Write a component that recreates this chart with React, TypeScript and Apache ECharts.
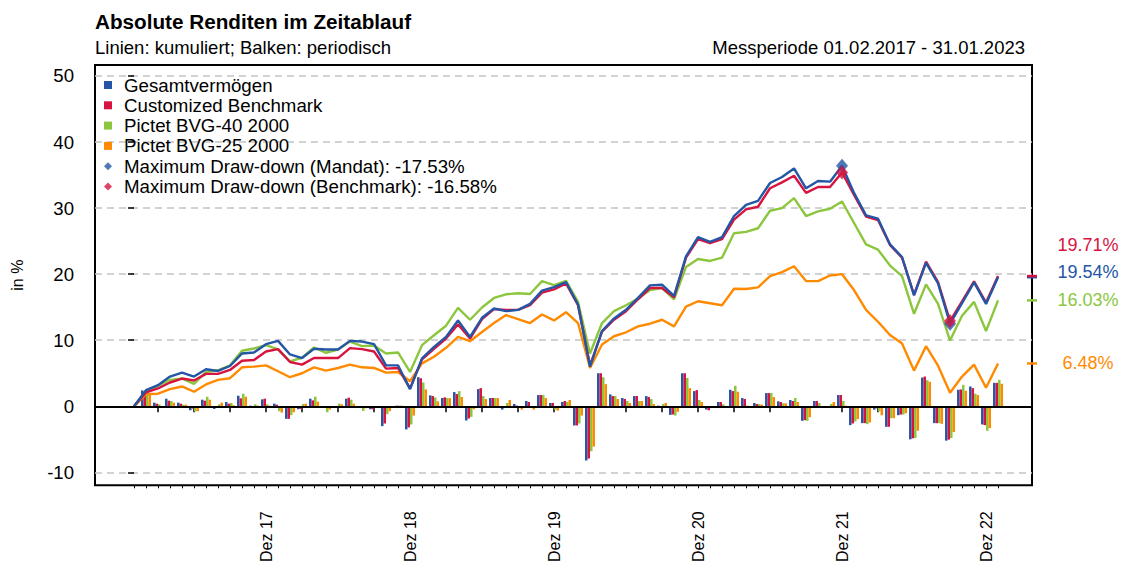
import React, { useEffect, useRef } from "react";
import * as echarts from "echarts";

const FONT = "'Liberation Sans', Arial, Helvetica, sans-serif";

const NAME_BLUE = "Gesamtvermögen";
const NAME_RED = "Customized Benchmark";
const NAME_GREEN = "Pictet BVG-40 2000";
const NAME_ORANGE = "Pictet BVG-25 2000";
const NAME_DD_M = "Maximum Draw-down (Mandat): -17.53%";
const NAME_DD_B = "Maximum Draw-down (Benchmark): -16.58%";

const COLOR_BLUE = "#2356A5";
const COLOR_RED = "#D7143F";
const COLOR_GREEN = "#8CC63E";
const COLOR_ORANGE = "#FF8A00";

// month index: 0 = Jan 2017 (start), 72 = Jan 2023
// cumulative returns (lines), %
const cumBlue = [
  0, 2.45, 3.2, 4.5, 5.1, 4.5, 5.6, 5.35, 6.1, 8.0, 8.15, 9.4,
  9.9, 7.85, 7.3, 8.7, 8.6, 8.6, 9.9, 9.8, 9.4, 6.2, 6.2, 2.6,
  7.25, 9.0, 10.5, 13.0, 10.5, 13.4, 14.8, 14.4, 14.6, 15.5, 17.5, 18.05,
  18.8, 15.4, 6.0, 11.4, 13.3, 14.6, 16.4, 18.3, 18.4, 16.7, 22.7, 25.6,
  24.9, 25.6, 28.8, 30.5, 31.1, 33.8, 34.7, 36.0, 33.0, 34.1, 34.0, 36.4,
  32.3, 28.9, 28.4, 24.5, 22.6, 16.8, 21.7, 18.6, 12.5, 15.6, 18.75, 15.5,
  19.54,
];
const cumRed = [
  0, 2.1, 2.7, 3.6, 4.2, 3.9, 4.9, 4.9, 5.5, 6.9, 7.0, 8.3,
  8.65, 6.7, 6.3, 7.3, 7.3, 7.3, 8.8, 8.65, 8.3, 5.7, 5.8, 2.7,
  7.1, 8.7, 10.25, 12.4, 10.25, 13.2, 14.7, 14.6, 14.6, 15.3, 17.2, 17.7,
  18.6, 15.3, 6.2, 11.3, 13.1, 14.4, 16.2, 17.9, 17.9, 16.5, 22.5, 25.3,
  24.7, 25.3, 28.25, 29.8, 30.2, 33.0, 33.9, 34.9, 32.3, 33.2, 33.2, 35.4,
  32.0, 28.7, 28.2, 24.4, 22.5, 16.9, 21.9, 18.8, 12.9, 15.9, 18.9, 15.7,
  19.71,
];
const cumGreen = [
  0, 2.3, 3.1, 4.0, 4.2, 3.4, 5.2, 5.45, 6.2, 8.4, 8.75, 9.25,
  8.6, 6.8, 7.35, 8.9, 8.1, 8.6, 9.8, 9.1, 9.2, 8.0, 8.15, 5.2,
  9.25, 10.75, 12.2, 14.9, 13.1, 14.95, 16.4, 16.95, 17.1, 17.0, 18.95, 18.35,
  19.0, 15.8, 8.0, 12.6, 14.4, 15.3, 16.3, 17.6, 17.9, 16.2, 21.1, 22.3,
  22.0, 22.5, 26.2, 26.4, 26.95, 29.6, 30.0, 31.5, 28.8, 29.5, 29.9, 31.0,
  27.75, 24.5, 23.7, 21.3, 19.7, 14.0, 18.45, 15.5, 9.95, 13.7, 15.8, 11.4,
  16.03,
];
const cumOrange = [
  0, 1.85, 1.9, 2.6, 3.0, 2.2, 3.3, 4.0, 4.25, 5.9, 6.0, 6.2,
  5.3, 4.4, 5.0, 5.9, 5.4, 5.8, 6.3, 5.9, 5.8, 5.1, 5.2, 3.8,
  6.5, 7.5, 8.85, 10.5, 9.85, 11.25, 12.6, 13.8, 13.2, 12.6, 13.9, 13.0,
  14.25, 12.6, 5.8, 9.35, 10.6, 11.2, 12.1, 12.5, 13.1, 12.1, 15.1, 15.9,
  15.6, 15.3, 17.8, 17.75, 18.0, 19.7, 20.3, 21.2, 18.95, 18.95, 19.8, 20.0,
  17.6, 14.6, 12.8, 10.8, 9.5, 5.4, 9.1, 6.15, 2.05, 4.5, 6.3, 2.8,
  6.48,
];

// periodic (monthly) returns (bars), months 1..72
const perBlue = [
  2.4, 0.55, 1.15, 0.55, -0.6, 1.0, -0.4, 0.65, 1.6, 0.1, 1.05, 0.4,
  -1.9, -0.45, 1.15, -0.05, 0.0, 1.15, 0.0, -0.45, -3.0, 0.05, -3.5, 4.4,
  1.65, 1.25, 2.15, -2.15, 2.6, 1.25, -0.5, 0.35, 0.8, 1.7, 0.5, 0.65,
  -2.9, -8.2, 5.0, 1.8, 1.25, 1.55, 1.55, 0.1, -1.3, 5.0, 2.3, -0.5,
  0.65, 2.5, 1.25, 0.5, 2.0, 0.75, 0.95, -2.2, 0.8, 0.0, 1.7, -2.85,
  -2.55, -0.5, -3.1, -1.35, -5.0, 4.35, -2.55, -5.2, 2.5, 3.0, -2.75, 3.55,
];
const perRed = [
  2.15, 0.4, 0.85, 0.4, -0.35, 0.85, 0.05, 0.4, 1.2, 0.05, 1.15, 0.25,
  -1.9, -0.4, 0.9, 0.0, 0.05, 1.3, 0.0, -0.45, -2.6, 0.1, -3.2, 4.25,
  1.55, 1.35, 1.85, -1.85, 2.75, 1.25, -0.1, 0.1, 0.65, 1.7, 0.5, 0.8,
  -2.9, -7.9, 5.0, 1.55, 1.1, 1.55, 1.4, 0.05, -1.25, 5.0, 2.45, -0.6,
  0.65, 2.3, 1.1, 0.35, 2.0, 0.65, 0.8, -2.1, 0.8, 0.0, 1.7, -2.6,
  -2.55, -0.3, -3.1, -1.25, -4.85, 4.5, -2.55, -5.05, 2.55, 2.75, -2.85, 3.55,
];
const perGreen = [
  2.2, 0.3, 0.8, 0.25, -0.75, 1.45, 0.3, 0.5, 1.9, 0.3, 0.3, -0.75,
  -1.35, 0.35, 1.45, -0.9, 0.4, 1.0, -0.7, 0.05, -1.2, 0.1, -2.75, 3.6,
  1.35, 1.25, 2.3, -1.6, 1.55, 1.25, 0.5, 0.05, 0.05, 1.7, -0.5, 0.65,
  -2.6, -6.8, 4.4, 1.55, 0.8, 0.8, 1.1, 0.35, -1.4, 4.3, 0.95, -0.25,
  0.3, 3.1, 0.1, 0.35, 2.0, 0.45, 1.25, -2.2, 0.5, 0.35, 0.8, -2.3,
  -2.7, -0.75, -1.8, -1.25, -4.8, 3.95, -2.55, -4.8, 3.25, 1.9, -3.7, 4.0,
];
const perOrange = [
  1.85, 0.05, 0.55, 0.25, -0.75, 1.0, 0.55, 0.15, 1.45, 0.1, 0.1, -0.95,
  -0.9, 0.4, 0.7, -0.5, 0.3, 0.4, -0.3, 0.0, -0.75, 0.1, -1.4, 2.55,
  0.75, 1.25, 1.4, -0.45, 1.1, 1.25, 0.95, -0.5, -0.5, 1.25, -0.65, 0.95,
  -1.4, -6.1, 3.35, 1.1, 0.5, 0.8, 0.35, 0.5, -0.85, 2.75, 0.65, -0.25,
  -0.05, 2.2, 0.0, 0.25, 1.4, 0.45, 0.65, -1.65, 0.0, 0.65, 0.1, -1.95,
  -2.45, -1.35, -1.8, -1.05, -3.7, 3.7, -2.65, -3.9, 2.35, 1.7, -3.3, 3.4,
];

// maximum draw-down points: [month index, cumulative %]
const ddMandat = [[59, 36.4], [68, 12.5]];
const ddBenchmark = [[59, 35.4], [68, 12.9]];

// axes
const yTicks = [-10, 0, 10, 20, 30, 40, 50];
const quarterTicks = [2, 5, 8, 11, 14, 17, 20, 23, 26, 29, 32, 35, 38, 41, 44, 47, 50, 53, 56, 59, 62, 65, 68, 71];
const monthTicks = [
  0, 1, 2, 3, 4, 5, 6, 7, 8, 9, 10, 11, 12, 13, 14, 15, 16, 17, 18, 19, 20, 21, 22, 23, 24,
  25, 26, 27, 28, 29, 30, 31, 32, 33, 34, 35, 36, 37, 38, 39, 40, 41, 42, 43, 44, 45, 46, 47, 48,
  49, 50, 51, 52, 53, 54, 55, 56, 57, 58, 59, 60, 61, 62, 63, 64, 65, 66, 67, 68, 69, 70, 71, 72,
];
const labelTicks = [11, 23, 35, 47, 59, 71];
const tickLabels = ["Dez 17", "Dez 18", "Dez 19", "Dez 20", "Dez 21", "Dez 22"];

// end values shown at the right
const endValues = [
  { name: NAME_BLUE, value: 19.54, text: "19.54%", color: COLOR_BLUE, dy: -5 },
  { name: NAME_RED, value: 19.71, text: "19.71%", color: COLOR_RED, dy: -31 },
  { name: NAME_GREEN, value: 16.03, text: "16.03%", color: COLOR_GREEN, dy: 0 },
  { name: NAME_ORANGE, value: 6.48, text: "6.48%", color: COLOR_ORANGE, dy: 0 },
];

const X_MIN = -3.25;
const X_MAX = 74.83;
const Y_MIN = -11.96;
const Y_MAX = 51.66;

function toLine(arr: number[]) {
  return arr.map((v, i) => [i, v]);
}
function toBars(arr: number[]) {
  return arr.map((v, k) => [k + 1, v]);
}

export default function App() {
  const ref = useRef<HTMLDivElement>(null);

  useEffect(() => {
    if (!ref.current) return;
    const chart = echarts.init(ref.current, undefined, { renderer: "svg" });

    const barBase = {
      type: "bar",
      barWidth: 2.5,
      barGap: "0%",
      xAxisIndex: 0,
      yAxisIndex: 0,
      silent: true,
    };
    const lineBase = {
      type: "line",
      showSymbol: false,
      symbol: "none",
      xAxisIndex: 0,
      yAxisIndex: 0,
      silent: true,
    };

    const option: any = {
      animation: false,
      textStyle: { fontFamily: FONT },
      grid: {
        left: 95,
        right: 90,
        top: 65,
        bottom: 78,
        show: true,
        borderColor: "#000",
        borderWidth: 2,
        backgroundColor: "transparent",
      },
      legend: {
        orient: "vertical",
        left: 104,
        top: 75,
        padding: 0,
        itemGap: 0.3,
        itemWidth: 8,
        itemHeight: 8,
        selectedMode: false,
        textStyle: {
          fontSize: 18.7,
          fontFamily: FONT,
          color: "#000",
          lineHeight: 20,
          padding: [0, 0, 0, 7],
        },
        data: [
          { name: NAME_BLUE, icon: "rect" },
          { name: NAME_RED, icon: "rect" },
          { name: NAME_GREEN, icon: "rect" },
          { name: NAME_ORANGE, icon: "rect" },
          { name: NAME_DD_M, icon: "diamond" },
          { name: NAME_DD_B, icon: "diamond" },
        ],
      },
      xAxis: [
        {
          type: "value",
          min: X_MIN,
          max: X_MAX,
          position: "bottom",
          axisLine: { show: false },
          splitLine: { show: false },
          axisTick: {
            show: true,
            customValues: quarterTicks,
            length: 6,
            lineStyle: { color: "#000", width: 1.5 },
          },
          axisLabel: {
            show: true,
            customValues: labelTicks,
            formatter: (v: number) => tickLabels[labelTicks.indexOf(Math.round(v))] || "",
            rotate: 90,
            margin: 26,
            fontSize: 16,
            color: "#000",
            fontFamily: FONT,
          },
        },
        {
          type: "value",
          min: X_MIN,
          max: X_MAX,
          position: "bottom",
          axisLine: { show: false },
          splitLine: { show: false },
          axisLabel: { show: false },
          axisTick: {
            show: true,
            customValues: monthTicks,
            length: 3,
            lineStyle: { color: "#000", width: 1 },
          },
        },
      ],
      yAxis: {
        type: "value",
        min: Y_MIN,
        max: Y_MAX,
        axisLine: { show: false },
        axisTick: {
          show: true,
          customValues: yTicks,
          length: 6,
          lineStyle: { color: "#000", width: 1.5 },
        },
        axisLabel: {
          customValues: yTicks,
          margin: 21,
          fontSize: 18.6,
          color: "#000",
          fontFamily: FONT,
        },
        splitLine: {
          show: true,
          lineStyle: { color: "#c4c4c4", width: 1.5, type: [7, 5] },
        },
        name: "in %",
        nameLocation: "middle",
        nameGap: 70,
        nameRotate: 90,
        nameTextStyle: { fontSize: 16, color: "#000", fontFamily: FONT },
      },
      series: [
        {
          ...barBase,
          name: NAME_BLUE,
          data: toBars(perBlue),
          itemStyle: { color: COLOR_BLUE },
          markLine: {
            silent: true,
            symbol: ["none", "none"],
            label: { show: false },
            lineStyle: { color: "#000", type: "solid", width: 2 },
            data: [{ yAxis: 0 }],
            z: 20,
          },
        },
        { ...barBase, name: NAME_RED, data: toBars(perRed), itemStyle: { color: COLOR_RED } },
        { ...barBase, name: NAME_GREEN, data: toBars(perGreen), itemStyle: { color: COLOR_GREEN } },
        { ...barBase, name: NAME_ORANGE, data: toBars(perOrange), itemStyle: { color: COLOR_ORANGE } },
        { ...lineBase, name: NAME_ORANGE, data: toLine(cumOrange), lineStyle: { color: COLOR_ORANGE, width: 2.4 }, itemStyle: { color: COLOR_ORANGE }, z: 3 },
        { ...lineBase, name: NAME_GREEN, data: toLine(cumGreen), lineStyle: { color: COLOR_GREEN, width: 2.4 }, itemStyle: { color: COLOR_GREEN }, z: 3 },
        { ...lineBase, name: NAME_RED, data: toLine(cumRed), lineStyle: { color: COLOR_RED, width: 2.4 }, itemStyle: { color: COLOR_RED }, z: 3 },
        { ...lineBase, name: NAME_BLUE, data: toLine(cumBlue), lineStyle: { color: COLOR_BLUE, width: 2.4 }, itemStyle: { color: COLOR_BLUE }, z: 3 },
        {
          type: "scatter",
          name: NAME_DD_M,
          data: ddMandat,
          symbol: "diamond",
          symbolSize: [12, 14],
          itemStyle: { color: COLOR_BLUE },
          silent: true,
          z: 4,
        },
        {
          type: "scatter",
          name: NAME_DD_B,
          data: ddBenchmark,
          symbol: "diamond",
          symbolSize: [12, 14],
          itemStyle: { color: COLOR_RED },
          silent: true,
          z: 4,
        },
      ],
    };

    chart.setOption(option);

    const xRight = chart.convertToPixel({ xAxisIndex: 0 }, X_MAX) as number;
    const graphics: any[] = [
      {
        type: "text",
        left: 95,
        top: 11,
        style: {
          text: "Absolute Renditen im Zeitablauf",
          font: `bold 20.7px ${FONT}`,
          fill: "#000",
        },
      },
      {
        type: "text",
        left: 95,
        top: 38,
        style: {
          text: "Linien: kumuliert; Balken: periodisch",
          font: `18.5px ${FONT}`,
          fill: "#000",
        },
      },
      {
        type: "text",
        right: 97,
        top: 38,
        style: {
          text: "Messperiode 01.02.2017 - 31.01.2023",
          font: `18.5px ${FONT}`,
          fill: "#000",
        },
      },
    ];
    endValues.forEach((e) => {
      const y = chart.convertToPixel({ yAxisIndex: 0 }, e.value) as number;
      graphics.push({
        type: "line",
        shape: { x1: xRight - 5, y1: y, x2: xRight + 5, y2: y },
        style: { stroke: e.color, lineWidth: 2.5 },
        z: 50,
      });
      graphics.push({
        type: "text",
        x: xRight + 56,
        y: y + e.dy,
        style: {
          text: e.text,
          font: `18px ${FONT}`,
          fill: e.color,
          textAlign: "center",
          textVerticalAlign: "middle",
        },
        z: 50,
      });
    });
    chart.setOption({ graphic: graphics });

    return () => chart.dispose();
  }, []);

  return (
    <div
      ref={ref}
      style={{ position: "fixed", left: 0, top: 0, width: 1122, height: 565, background: "#fff" }}
    />
  );
}
